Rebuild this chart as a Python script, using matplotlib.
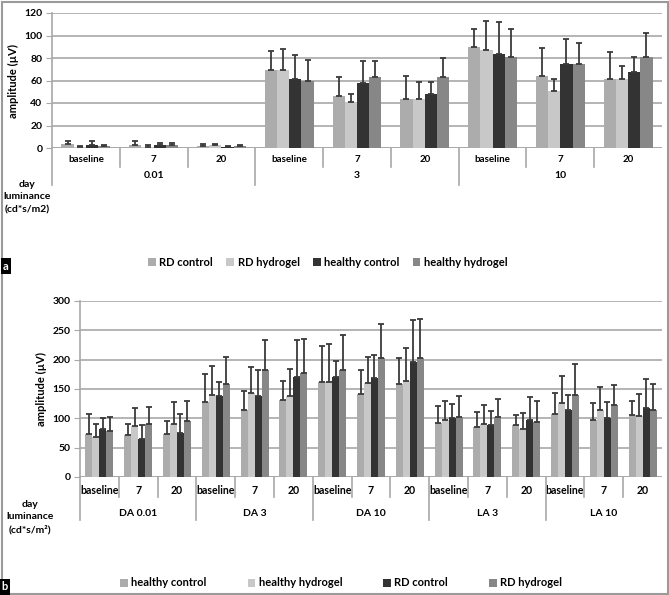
import matplotlib.pyplot as plt
import numpy as np
from matplotlib.patches import Rectangle
from matplotlib.transforms import blended_transform_factory

plt.rcParams['font.family'] = ['Lato', 'DejaVu Sans']
plt.rcParams['font.weight'] = 'bold'

days = ['baseline', '7', '20']

# panel a
lum_a = ['0.01', '3', '10']
names_a = ['RD control', 'RD hydrogel', 'healthy control', 'healthy hydrogel']
rd_ctrl_a = [3.5, 3, 1.5, 69, 46, 44, 90, 64, 61]
rd_gel_a = [1, 1, 2.5, 69, 41, 44, 87, 51, 61]
h_ctrl_a = [3, 3, 1, 61, 58, 48, 84, 75, 68]
h_gel_a = [1.5, 2.5, 2, 60, 63, 63, 81, 75, 81]
rd_ctrl_a_err = [6.5, 6, 3.5, 86, 63, 64, 106, 89, 85]
rd_gel_a_err = [2, 2.5, 4, 88, 48, 59, 113, 61, 73]
h_ctrl_a_err = [6, 4.5, 2, 83, 77, 59, 112, 97, 81]
h_gel_a_err = [2.5, 4.5, 3, 78, 77, 80, 106, 93, 102]

# panel b
lum_b = ['DA 0.01', 'DA 3', 'DA 10', 'LA 3', 'LA 10']
names_b = ['healthy control', 'healthy hydrogel', 'RD control', 'RD hydrogel']
h_ctrl_b = [74, 72, 74, 127, 114, 131, 162, 142, 158, 92, 86, 88, 108, 97, 105]
h_gel_b = [68, 87, 91, 139, 143, 138, 162, 160, 163, 98, 90, 81, 126, 114, 104]
rd_ctrl_b = [81, 64, 75, 138, 138, 170, 171, 168, 196, 100, 88, 98, 115, 101, 118]
rd_gel_b = [78, 91, 95, 158, 183, 177, 183, 203, 203, 103, 103, 94, 139, 122, 114]
h_ctrl_b_err = [108, 90, 96, 175, 146, 164, 224, 183, 202, 121, 110, 105, 143, 126, 130]
h_gel_b_err = [91, 118, 127, 189, 188, 184, 227, 204, 220, 130, 123, 109, 172, 154, 142]
rd_ctrl_b_err = [100, 88, 107, 162, 182, 233, 198, 208, 267, 124, 113, 137, 139, 128, 167]
rd_gel_b_err = [102, 119, 130, 204, 233, 235, 242, 260, 269, 138, 133, 130, 192, 156, 158]

colors = ['#acacac', '#c8c8c8', '#333333', '#878787']
W, H = 669, 595

fig = plt.figure(figsize=(W / 100, H / 100), dpi=100)


def draw_panel(rect, vals, errs, names, lums, ymax, ystep, day_drop, lum_drop, lum_y, fs_day):
    ax = fig.add_axes(rect)
    n = len(vals[0])
    x = np.arange(n)
    bw = 0.18
    for i, (v, e) in enumerate(zip(vals, errs)):
        pos = x + (i - 1.5) * bw
        ax.bar(pos, v, bw, color=colors[i], label=names[i], zorder=2)
        ax.errorbar(pos, e, yerr=[np.array(e) - np.array(v), np.zeros(n)], fmt='none',
                    ecolor='#3a3a3a', elinewidth=1.3, capsize=2.2, capthick=1.3, zorder=3)
    ax.set_xlim(-0.5, n - 0.5)
    ax.set_ylim(0, ymax)
    ax.set_yticks(np.arange(0, ymax + 1, ystep))
    ax.yaxis.grid(True, color='#a8a8a8', linewidth=1.2, zorder=0)
    for s in ['top', 'right', 'bottom']:
        ax.spines[s].set_visible(False)
    ax.spines['left'].set_color('#a8a8a8')
    ax.spines['left'].set_linewidth(1.2)
    ax.axhline(0, color='#a8a8a8', linewidth=1.2, zorder=1)
    ax.tick_params(axis='y', length=4, color='#a8a8a8', labelsize=7.5, pad=3)
    ax.set_xticks(x)
    ax.set_xticklabels(days * len(lums), fontsize=fs_day)
    ax.tick_params(axis='x', length=0, pad=5)
    ax.set_ylabel('amplitude (µV)', fontsize=8, fontweight='bold', labelpad=4)
    tr = blended_transform_factory(ax.transData, ax.transAxes)
    for k in range(1, n):
        drop = lum_drop if k % 3 == 0 else day_drop
        ax.plot([k - 0.5, k - 0.5], [0, -drop], transform=tr, color='#a8a8a8',
                linewidth=1.2, clip_on=False)
    ax.plot([-0.5, -0.5], [0, -lum_drop], transform=tr, color='#a8a8a8',
            linewidth=1.2, clip_on=False)
    for j, lab in enumerate(lums):
        ax.text(3 * j + 1, -lum_y, lab, transform=tr, ha='center', va='center',
                fontsize=7.5, fontweight='bold')
    return ax


ax_a = draw_panel([52 / W, 1 - 148 / H, 610 / W, 135 / H],
                  [rd_ctrl_a, rd_gel_a, h_ctrl_a, h_gel_a],
                  [rd_ctrl_a_err, rd_gel_a_err, h_ctrl_a_err, h_gel_a_err],
                  names_a, lum_a, 120, 20, 19 / 135, 37 / 135, 27 / 135, 7)
ax_b = draw_panel([80 / W, 1 - 477 / H, 582 / W, 176 / H],
                  [h_ctrl_b, h_gel_b, rd_ctrl_b, rd_gel_b],
                  [h_ctrl_b_err, h_gel_b_err, rd_ctrl_b_err, rd_gel_b_err],
                  names_b, lum_b, 300, 50, 20 / 176, 43 / 176, 36 / 176, 7.6)
ax_b.tick_params(axis='x', pad=6)

# row titles on the left
fig.text(27 / W, 1 - 197 / H, 'day\nluminance\n(cd*s/m2)', ha='center', va='center',
         fontsize=7.5, fontweight='bold', linespacing=1.5)
fig.text(30 / W, 1 - 517 / H, 'day\nluminance\n(cd*s/m²)', ha='center', va='center',
         fontsize=7.5, fontweight='bold', linespacing=1.5)

# legends
h, l = ax_a.get_legend_handles_labels()
fig.legend(h, l, loc='center', bbox_to_anchor=(0.49, 1 - 262 / H), ncol=4, frameon=False,
           fontsize=8, handlelength=0.7, handleheight=0.7, handletextpad=0.3,
           columnspacing=1.2)
h, l = ax_b.get_legend_handles_labels()
fig.legend(h, l, loc='center', bbox_to_anchor=(0.51, 1 - 583 / H), ncol=4, frameon=False,
           fontsize=8, handlelength=0.7, handleheight=0.7, handletextpad=0.3,
           columnspacing=3.7)

# panel tags and frame
fig.text(6 / W, 1 - 266 / H, 'a', ha='center', va='center', color='white', fontsize=8,
         bbox=dict(boxstyle='square,pad=0.2', fc='black', ec='none'))
fig.text(5 / W, 1 - 587 / H, 'b', ha='center', va='center', color='white', fontsize=8,
         bbox=dict(boxstyle='square,pad=0.2', fc='black', ec='none'))
fig.patches.append(Rectangle((1.5 / W, 1.5 / H), 1 - 3 / W, 1 - 3 / H, transform=fig.transFigure,
                             fill=False, ec='#9a9a9a', lw=1.5))

fig.savefig('out.png', dpi=100)
